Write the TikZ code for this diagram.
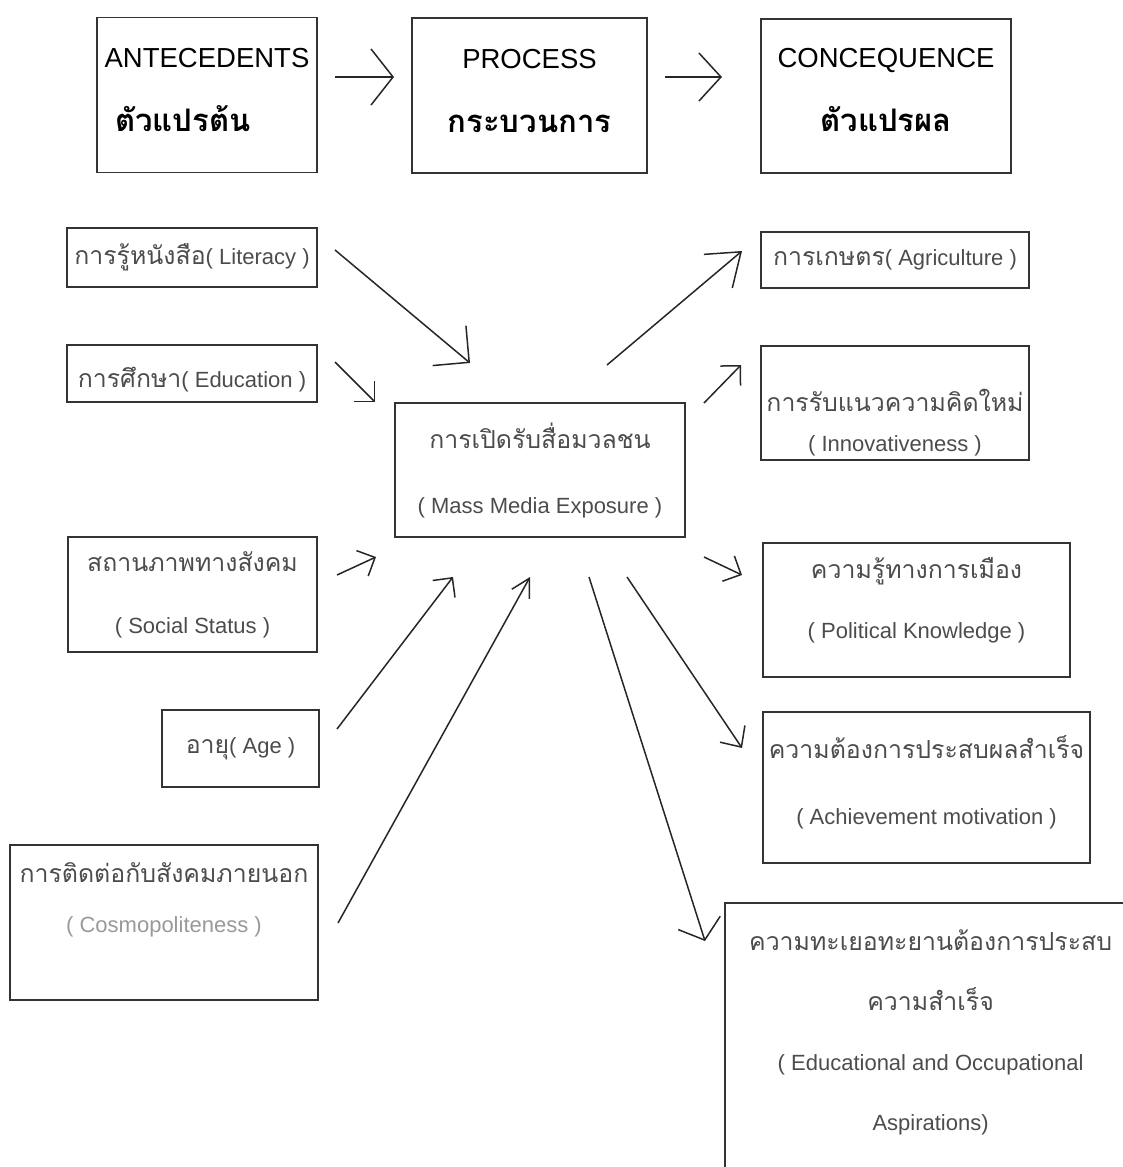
\documentclass[tikz,border=0pt]{standalone}
\usepackage{fontspec}
\setmainfont{Liberation Sans}
\newfontfamily\thaifont[Script=Thai,Scale=1.13]{Loma}
\usetikzlibrary{arrows.meta}

% struts that move a box's text up or down
\newcommand{\lowstrut}[1]{\rule[-#1]{0pt}{#1}}
\newcommand{\highstrut}[1]{\rule{0pt}{#1}}

\begin{document}
\begin{tikzpicture}[
        x=1pt, y=-1pt,
        box/.style={
            rectangle,
            draw=black!80,
            line width=1.2pt,
            inner sep=0pt,
            align=center,
            text=black!70,
            font=\fontsize{22}{60}\selectfont
        },
        headbox/.style={
            box,
            text=black,
            font=\fontsize{27.5}{64}\selectfont
        },
        arrow/.style={
            -{Straight Barb[length=14pt,width=28pt]},
            line width=1.5pt,
            black!85
        }
    ]
    \useasboundingbox (0,0) rectangle (1122,1167);

    % Top row
    \node[headbox, minimum width=220pt, minimum height=155pt] (ante) at (207,95)
        {ANTECEDENTS\\{\thaifont\bfseries ตัวแปรต้น}\hspace*{48pt}\lowstrut{10pt}};
    \node[headbox, minimum width=235pt, minimum height=155pt] (proc) at (529.5,95.5)
        {PROCESS\\{\thaifont\bfseries กระบวนการ}\lowstrut{10pt}};
    \node[headbox, minimum width=250pt, minimum height=154pt] (cons) at (886,96)
        {CONCEQUENCE\\{\thaifont\bfseries ตัวแปรผล}\lowstrut{12pt}};

    % Antecedents
    \node[box, minimum width=250pt, minimum height=59pt] (lit) at (192,257.5)
        {{\thaifont การรู้หนังสือ}( Literacy )};
    \node[box, minimum width=250pt, minimum height=57pt] (edu) at (192,373.5)
        {\highstrut{32pt}{\thaifont การศึกษา}( Education )};
    \node[box, minimum width=249pt, minimum height=115pt, font=\fontsize{22}{62}\selectfont] (soc) at (192.5,594.5)
        {{\thaifont สถานภาพทางสังคม}\\( Social Status )};
    \node[box, minimum width=157pt, minimum height=77pt] (age) at (240.5,748.5)
        {{\thaifont อายุ}( Age )};
    \node[box, minimum width=308pt, minimum height=155pt, font=\fontsize{22}{50}\selectfont] (cosmo) at (164,922.5)
        {{\thaifont การติดต่อกับสังคมภายนอก}\\{\color{black!40}( Cosmopoliteness )}\\\mbox{}};

    % Process
    \node[box, minimum width=290pt, minimum height=134pt, font=\fontsize{22}{65}\selectfont] (media) at (540,470)
        {{\thaifont การเปิดรับสื่อมวลชน}\\( Mass Media Exposure )};

    % Consequences
    \node[box, minimum width=268pt, minimum height=56pt] (agri) at (895,260)
        {{\thaifont การเกษตร}( Agriculture )};
    \node[box, minimum width=268pt, minimum height=114pt, font=\fontsize{22}{40}\selectfont] (innov) at (895,403)
        {\highstrut{62pt}{\thaifont การรับแนวความคิดใหม่}\\( Innovativeness )};
    \node[box, line width=2.2pt, minimum width=307pt, minimum height=134pt] (pol) at (916.5,610)
        {{\thaifont ความรู้ทางการเมือง}\\( Political Knowledge )\lowstrut{23pt}};
    \node[box, minimum width=327pt, minimum height=151pt, font=\fontsize{22}{66}\selectfont] (ach) at (926.5,787.5)
        {{\thaifont ความต้องการประสบผลสำเร็จ}\\( Achievement motivation )\lowstrut{15pt}};
    \node[box, draw=none, anchor=north west, minimum width=410pt, minimum height=258pt] (asp) at (725,903)
        {{\thaifont ความทะเยอทะยานต้องการประสบ}\\{\thaifont ความสำเร็จ}\\( Educational and Occupational\\Aspirations)};
    \draw[black!80, line width=1.2pt] ([yshift=-20pt]asp.south west) -- (asp.north west) -- ([xshift=10pt]asp.north east);

    % Arrow ends
    \coordinate (antefrom) at (335,77);
    \coordinate (anteto) at (394,77);
    \coordinate (procfrom) at (665,77);
    \coordinate (procto) at (722,77);
    \coordinate (litfrom) at (335,250);
    \coordinate (litto) at (470,363);
    \coordinate (edufrom) at (335,362);
    \coordinate (eduto) at (375,402);
    \coordinate (socfrom) at (337,575);
    \coordinate (socto) at (376,557);
    \coordinate (agefrom) at (337,729);
    \coordinate (ageto) at (453,577);
    \coordinate (cosmofrom) at (338,923);
    \coordinate (cosmoto) at (530,577);
    \coordinate (agrifrom) at (607,365);
    \coordinate (agrito) at (742,251);
    \coordinate (innovfrom) at (704,403);
    \coordinate (innovto) at (741,365);
    \coordinate (polfrom) at (704,557);
    \coordinate (polto) at (742,575);
    \coordinate (achfrom) at (627,577);
    \coordinate (achto) at (742,748);
    \coordinate (aspfrom) at (589,577);
    \coordinate (aspto) at (705,941);

    % Arrows
    \draw[arrow, -{Straight Barb[length=22pt,width=56pt]}] (antefrom) -- (anteto);
    \draw[arrow, -{Straight Barb[length=22pt,width=48pt]}] (procfrom) -- (procto);
    \draw[arrow, -{Straight Barb[length=26pt,width=52pt]}] (litfrom) -- (litto);
    \draw[arrow] (edufrom) -- (eduto);
    \draw[arrow] (socfrom) -- (socto);
    \draw[arrow] (agefrom) -- (ageto);
    \draw[arrow, -{Straight Barb[length=18pt,width=20pt]}] (cosmofrom) -- (cosmoto);
    \draw[arrow, -{Straight Barb[length=30pt,width=44pt]}] (agrifrom) -- (agrito);
    \draw[arrow] (innovfrom) -- (innovto);
    \draw[arrow] (polfrom) -- (polto);
    \draw[arrow, -{Straight Barb[length=16pt,width=30pt]}] (achfrom) -- (achto);
    \draw[arrow, -{Straight Barb[length=18pt,width=44pt]}] (aspfrom) -- (aspto);

\end{tikzpicture}
\end{document}
